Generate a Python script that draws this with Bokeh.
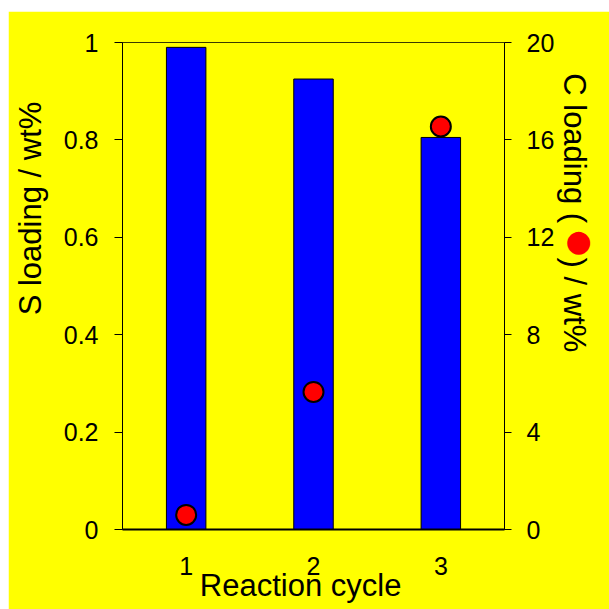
import math
from bokeh.plotting import figure
from bokeh.models import (Range1d, LinearAxis, FixedTicker, CustomJSTickFormatter,
                          Spacer, ColumnDataSource)
from bokeh.layouts import column, row
from bokeh.embed import file_html
from bokeh.resources import INLINE

# Loadings per reaction cycle
cycles = [1, 2, 3]
cycle_labels = ["1", "2", "3"]
s_loading = [0.99, 0.925, 0.805]      # wt%, left axis (bars)
c_loading = [0.6, 5.65, 16.55]        # wt%, right axis (circles)
s_ticks = [0, 0.2, 0.4, 0.6, 0.8, 1]
c_ticks = [0, 4, 8, 12, 16, 20]

FONT = "Liberation Sans"
YELLOW = "#FFFF00"
NBSP = "\u00a0"

src = ColumnDataSource(dict(x=cycles, s=s_loading, c=c_loading))

p = figure(width=601, height=598, x_range=Range1d(0.5, 3.5), y_range=Range1d(0, 1),
           output_backend="svg", toolbar_location=None,
           min_border_left=114, min_border_right=105, min_border_top=31, min_border_bottom=80)
p.background_fill_color = YELLOW
p.border_fill_color = YELLOW
p.outline_line_color = "#3a3a00"
p.outline_line_width = 1
p.xgrid.visible = False
p.ygrid.visible = False

p.extra_y_ranges = {"c": Range1d(0, 20)}

p.vbar(x="x", top="s", width=0.31, bottom=0, source=src,
       fill_color="#0000FF", line_color="black", line_width=1)
p.scatter(x="x", y="c", y_range_name="c", source=src, size=20,
          fill_color="#FF0000", line_color="black", line_width=2)


def style_axis(ax, tick_out, standoff):
    ax.major_tick_out = tick_out
    ax.major_tick_in = 0
    ax.major_tick_line_color = "black"
    ax.minor_tick_line_color = None
    ax.axis_line_color = "black"
    ax.major_label_text_font = FONT
    ax.major_label_text_font_size = "25px"
    ax.major_label_text_color = "black"
    ax.major_label_standoff = standoff
    ax.axis_label_text_font = FONT
    ax.axis_label_text_font_size = "31px"
    ax.axis_label_text_font_style = "normal"
    ax.axis_label_text_color = "black"


# bottom axis
xa = p.xaxis[0]
xa.ticker = FixedTicker(ticks=cycles)
xa.major_label_overrides = {c: l for c, l in zip(cycles, cycle_labels)}
style_axis(xa, 0, 27)
xa.axis_line_width = 2
xa.axis_label = "Reaction cycle" + NBSP * 3
xa.axis_label_standoff = -10

# left axis (title lifted above centre with leading spaces)
ya = p.yaxis[0]
ya.ticker = FixedTicker(ticks=s_ticks)
ya.formatter = CustomJSTickFormatter(code="return tick.toString();")
style_axis(ya, 8, 16)
ya.axis_label = NBSP * 18 + "S loading / wt%"
ya.axis_label_standoff = 13

# right axis for carbon loading
ra = LinearAxis(y_range_name="c", ticker=FixedTicker(ticks=c_ticks))
style_axis(ra, 7, 15)
p.add_layout(ra, "right")

# outer right axis: red marker key plus the carbon title
key = LinearAxis(y_range_name="c", ticker=FixedTicker(ticks=[11.85]),
                 formatter=CustomJSTickFormatter(code="return '\u25cf';"))
style_axis(key, 0, 8)
key.axis_line_color = None
key.major_tick_line_color = None
key.major_label_text_font = "DejaVu Sans"
key.major_label_text_font_size = "30px"
key.major_label_text_color = "#FF0000"
key.axis_label = "C loading (" + NBSP * 4 + ") / wt%" + NBSP * 17
key.axis_label_standoff = -38
p.add_layout(key, "right")

layout = column(Spacer(width=609, height=11), row(Spacer(width=8, height=598), p))

open("out.html", "w").write(file_html(layout, INLINE))
